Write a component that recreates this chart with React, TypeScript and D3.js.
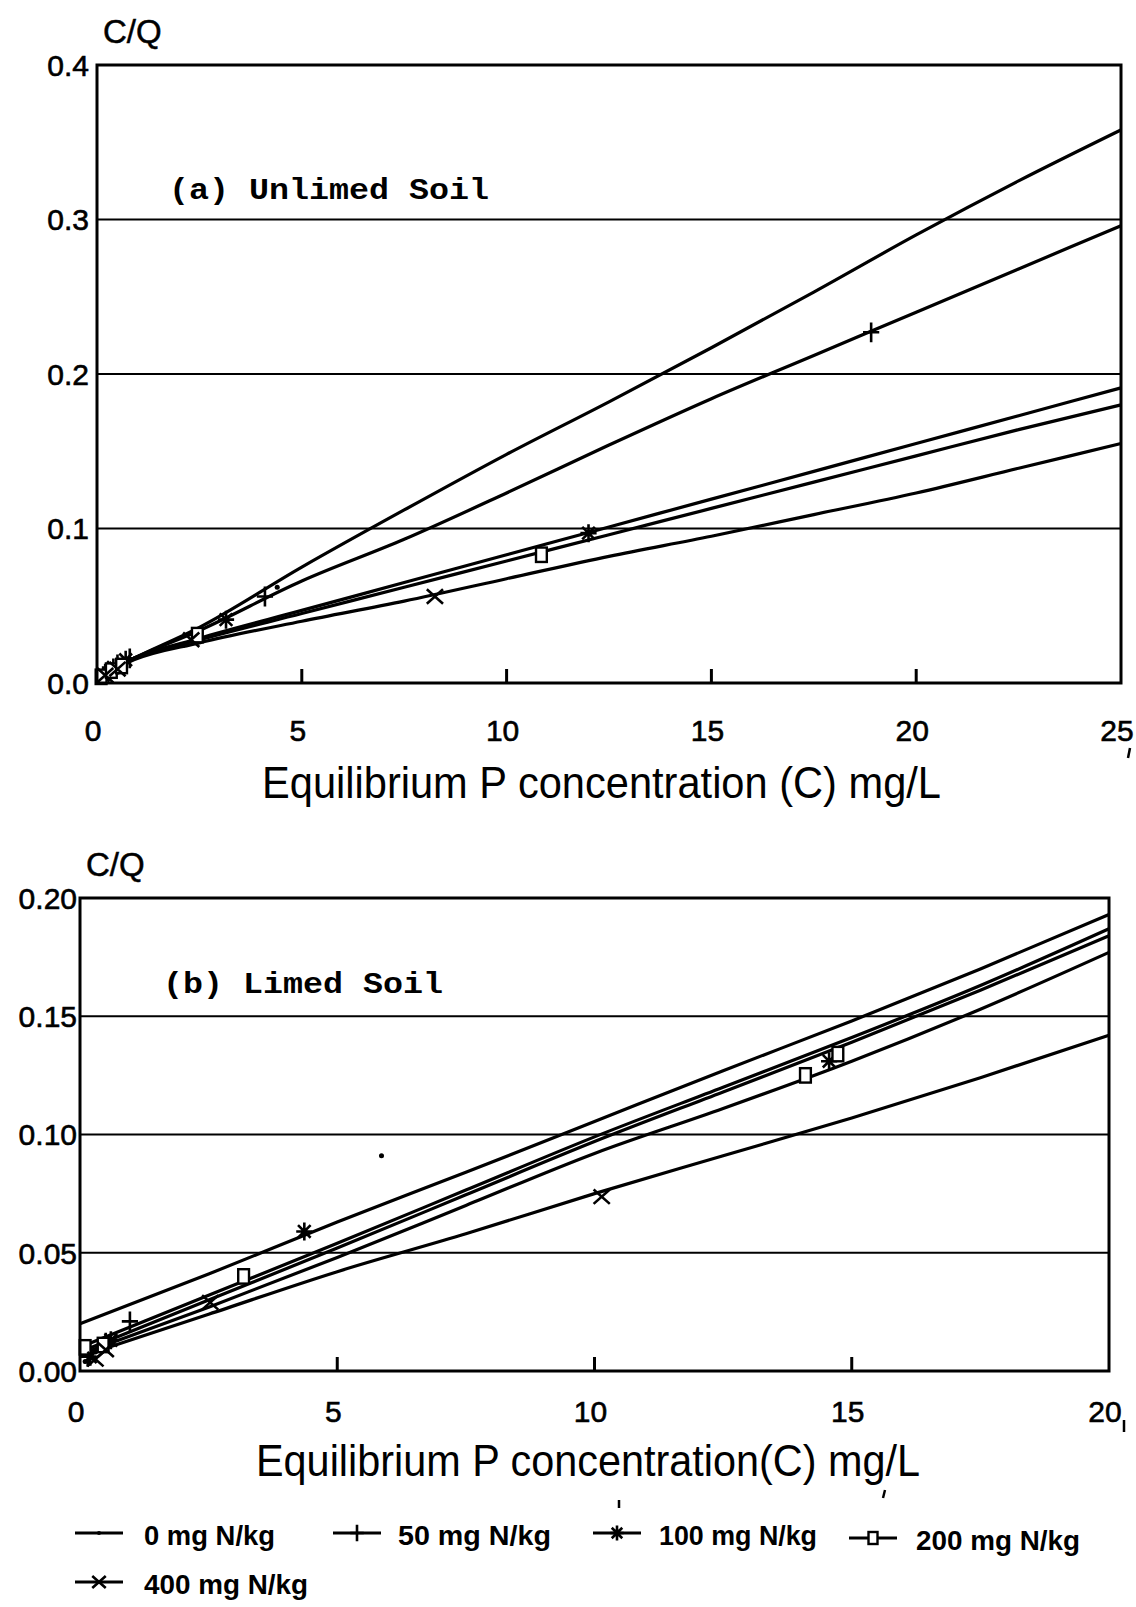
import * as d3 from "d3";

// legend / series
const seriesNames = ["0 mg N/kg", "50 mg N/kg", "100 mg N/kg", "200 mg N/kg", "400 mg N/kg"];
const markerKinds = ["dot", "plus", "star", "square", "cross"];

// (a) Unlimed soil : fitted curves at these C values
const fitCA = [0, 0.9, 2.5, 5, 7.5, 10, 12.5, 15, 17.5, 20, 22.5, 25];
const fitA0 = [0.004, 0.016, 0.036, 0.075, 0.112, 0.148, 0.182, 0.217, 0.253, 0.29, 0.325, 0.358];
const fitA50 = [0.004, 0.016, 0.034, 0.066, 0.093, 0.123, 0.154, 0.184, 0.212, 0.24, 0.268, 0.296];
const fitA100 = [0.004, 0.016, 0.029, 0.047, 0.065, 0.083, 0.101, 0.119, 0.137, 0.155, 0.173, 0.191];
const fitA200 = [0.004, 0.016, 0.028, 0.045, 0.062, 0.079, 0.096, 0.113, 0.13, 0.147, 0.164, 0.18];
const fitA400 = [0.003, 0.015, 0.026, 0.04, 0.053, 0.0675, 0.082, 0.095, 0.109, 0.123, 0.139, 0.155];

// (a) measured points [C, C/Q]
const obsA0 = [[0.1, 0.004], [0.3, 0.008], [0.6, 0.012], [4.4, 0.062]];
const obsA50 = [[0.2, 0.006], [0.5, 0.012], [0.8, 0.016], [4.1, 0.056], [18.9, 0.227]];
const obsA100 = [[0.15, 0.005], [0.4, 0.01], [0.7, 0.015], [3.15, 0.041], [12.0, 0.097]];
const obsA200 = [[0.1, 0.004], [0.35, 0.008], [0.6, 0.011], [2.45, 0.031], [10.85, 0.083]];
const obsA400 = [[0.2, 0.005], [0.5, 0.009], [2.3, 0.028], [8.25, 0.056]];

// (b) Limed soil
const fitCB = [0, 2.5, 5, 7.5, 10, 12.5, 15, 17.5, 20];
const fitB0 = [0.02, 0.041, 0.063, 0.084, 0.1055, 0.127, 0.148, 0.17, 0.193];
const fitB50 = [0.007, 0.027, 0.048, 0.07, 0.092, 0.111, 0.131, 0.153, 0.177];
const fitB100 = [0.01, 0.032, 0.054, 0.0765, 0.099, 0.12, 0.141, 0.163, 0.187];
const fitB200 = [0.008, 0.03, 0.052, 0.0745, 0.097, 0.118, 0.139, 0.161, 0.184];
const fitB400 = [0.006, 0.024, 0.042, 0.058, 0.075, 0.091, 0.107, 0.124, 0.142];

const obsB0 = [[0.1, 0.004], [0.3, 0.008], [5.86, 0.091]];
const obsB50 = [[0.15, 0.006], [0.5, 0.012], [0.97, 0.021]];
const obsB100 = [[0.2, 0.006], [0.6, 0.013], [4.36, 0.059], [14.56, 0.131]];
const obsB200 = [[0.1, 0.01], [0.45, 0.011], [3.18, 0.04], [14.1, 0.125], [14.73, 0.134]];
const obsB400 = [[0.3, 0.005], [0.5, 0.009], [2.53, 0.029], [10.14, 0.0737]];

// axes
const xTicksA = [0, 5, 10, 15, 20, 25];
const yTicksA = [0, 0.1, 0.2, 0.3, 0.4];
const yLabelsA = ["0.0", "0.1", "0.2", "0.3", "0.4"];
const xTicksB = [0, 5, 10, 15, 20];
const yTicksB = [0, 0.05, 0.1, 0.15, 0.2];
const yLabelsB = ["0.00", "0.05", "0.10", "0.15", "0.20"];

const SANS = "'Liberation Sans Narrow', 'Arial Narrow', 'Liberation Sans', Arial, sans-serif";
const MONO = "'Liberation Mono', 'Courier New', 'DejaVu Sans Mono', monospace";

function Marker({ kind, x, y, s = 1 }) {
  const sw = 2.6;
  if (kind === "dot") return <circle cx={x} cy={y} r={2.8 * s} fill="#000" />;
  if (kind === "plus")
    return <path d={`M${x - 9 * s},${y}H${x + 9 * s}M${x},${y - 11 * s}V${y + 11 * s}`} stroke="#000" strokeWidth={sw} />;
  if (kind === "cross")
    return (
      <path
        d={`M${x - 9 * s},${y - 8 * s}L${x + 9 * s},${y + 8 * s}M${x - 9 * s},${y + 8 * s}L${x + 9 * s},${y - 8 * s}`}
        stroke="#000"
        strokeWidth={sw}
      />
    );
  if (kind === "star")
    return (
      <path
        d={`M${x - 9 * s},${y}H${x + 9 * s}M${x},${y - 10 * s}V${y + 10 * s}M${x - 7 * s},${y - 7 * s}L${x + 7 * s},${y + 7 * s}M${x - 7 * s},${y + 7 * s}L${x + 7 * s},${y - 7 * s}`}
        stroke="#000"
        strokeWidth={sw}
      />
    );
  return <rect x={x - 6 * s} y={y - 8 * s} width={12 * s} height={16 * s} fill="#fff" stroke="#000" strokeWidth={2.4} />;
}

function Panel({ xDomain, xRange, yDomain, yRange, xTicks, yTicks, yLabels, fitC, fits, obs, cq, title, label, labelCfg, titleCfg, labelRight, xLabelY }) {
  const x = d3.scaleLinear().domain(xDomain).range(xRange);
  const y = d3.scaleLinear().domain(yDomain).range(yRange);
  const line = d3
    .line()
    .x((d) => x(d[0]))
    .y((d) => y(d[1]))
    .curve(d3.curveMonotoneX);
  const [x0, x1] = xRange;
  const [yb, yt] = yRange;
  return (
    <g>
      {/* gridlines */}
      {yTicks.slice(1, -1).map((t) => (
        <line key={t} x1={x0} x2={x1} y1={y(t)} y2={y(t)} stroke="#000" strokeWidth={2.2} />
      ))}
      {/* ticks on bottom */}
      {xTicks.slice(1, -1).map((t) => (
        <line key={t} x1={x(t)} x2={x(t)} y1={yb} y2={yb - 14} stroke="#000" strokeWidth={3} />
      ))}
      {/* curves */}
      {fits.map((f, i) => (
        <path key={i} d={line(fitC.map((c, j) => [c, f[j]]))} fill="none" stroke="#000" strokeWidth={3.2} />
      ))}
      {/* points */}
      {obs.map((pts, i) =>
        pts.map((p, j) => <Marker key={i + "-" + j} kind={markerKinds[i]} x={x(p[0])} y={y(p[1])} s={0.9} />)
      )}
      {/* frame */}
      <rect x={x0} y={yt} width={x1 - x0} height={yb - yt} fill="none" stroke="#000" strokeWidth={3} />
      {/* y labels */}
      {yTicks.map((t, i) => (
        <text key={t} x={labelRight} y={y(t)} dy="0.36em" textAnchor="end" fontFamily={SANS} fontSize={30} stroke="#000" strokeWidth={0.6}>
          {yLabels[i]}
        </text>
      ))}
      {/* x labels */}
      {xTicks.map((t) => (
        <text key={t} x={x(t) - 4} y={xLabelY} dy="0.36em" textAnchor="middle" fontFamily={SANS} fontSize={30} stroke="#000" strokeWidth={0.6}>
          {t}
        </text>
      ))}
      <text x={x0 + 6} y={yt - 22} fontFamily={SANS} fontSize={33} stroke="#000" strokeWidth={0.5}>
        {cq}
      </text>
      <text x={labelCfg[0]} y={labelCfg[1]} fontFamily={MONO} fontWeight="bold" fontSize={30} textLength={labelCfg[2]} lengthAdjust="spacingAndGlyphs">
        {label}
      </text>
      <text x={titleCfg[0]} y={titleCfg[1]} fontFamily={SANS} fontSize={44} textLength={titleCfg[2]} lengthAdjust="spacingAndGlyphs">
        {title}
      </text>
    </g>
  );
}

export default function App() {
  const legendTop = [
    { sx: 75, tx: 144, tw: 131, y: 1535 },
    { sx: 333, tx: 398, tw: 153, y: 1535 },
    { sx: 593, tx: 659, tw: 158, y: 1535 },
    { sx: 849, tx: 916, tw: 164, y: 1540 },
    { sx: 75, tx: 144, tw: 164, y: 1584 },
  ];
  return (
    <svg width={1136} height={1607} style={{ position: "absolute", left: 0, top: 0, background: "#fff" }}>
      <rect width={1136} height={1607} fill="#fff" />
      <Panel
        xDomain={[0, 25]}
        xRange={[97, 1121]}
        yDomain={[0, 0.4]}
        yRange={[683, 65]}
        xTicks={xTicksA}
        yTicks={yTicksA}
        yLabels={yLabelsA}
        fitC={fitCA}
        fits={[fitA0, fitA50, fitA100, fitA200, fitA400]}
        obs={[obsA0, obsA50, obsA100, obsA200, obsA400]}
        cq="C/Q"
        label="(a) Unlimed Soil"
        labelCfg={[169, 199, 320]}
        title="Equilibrium P concentration (C) mg/L"
        titleCfg={[262, 798, 679]}
        labelRight={89}
        xLabelY={730}
      />
      {/* scan specks */}
      <path d="M1130,748 L1128,758" stroke="#000" strokeWidth={2.5} />
      <Panel
        xDomain={[0, 20]}
        xRange={[80, 1109]}
        yDomain={[0, 0.2]}
        yRange={[1371, 898]}
        xTicks={xTicksB}
        yTicks={yTicksB}
        yLabels={yLabelsB}
        fitC={fitCB}
        fits={[fitB0, fitB50, fitB100, fitB200, fitB400]}
        obs={[obsB0, obsB50, obsB100, obsB200, obsB400]}
        cq="C/Q"
        label="(b) Limed Soil"
        labelCfg={[163, 993, 280]}
        title="Equilibrium P concentration(C) mg/L"
        titleCfg={[256, 1476, 664]}
        labelRight={77}
        xLabelY={1411}
      />
      <line x1={1124} x2={1124} y1={1420} y2={1432} stroke="#000" strokeWidth={2.5} />
      <line x1={619} x2={619} y1={1500} y2={1508} stroke="#000" strokeWidth={2.5} />
      <line x1={885} x2={883} y1={1490} y2={1498} stroke="#000" strokeWidth={2.5} />
      {/* legend */}
      {seriesNames.map((name, i) => {
        const L = legendTop[i];
        return (
          <g key={name}>
            <line x1={L.sx} x2={L.sx + 48} y1={L.y - 2} y2={L.y - 2} stroke="#000" strokeWidth={3} />
            <Marker kind={markerKinds[i]} x={L.sx + 24} y={L.y - 2} s={0.75} />
            <text x={L.tx} y={L.y} dy="0.36em" fontFamily={SANS} fontWeight="bold" fontSize={28} textLength={L.tw} lengthAdjust="spacingAndGlyphs">
              {name}
            </text>
          </g>
        );
      })}
    </svg>
  );
}
